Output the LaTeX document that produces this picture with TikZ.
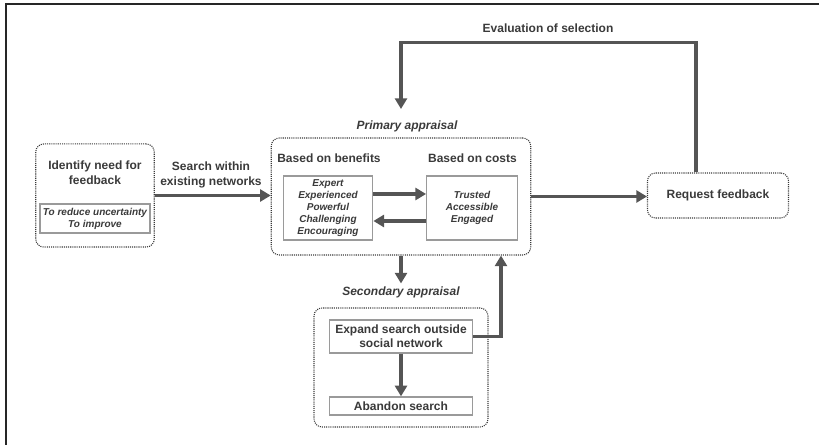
\documentclass[tikz,border=0pt]{standalone}
\usepackage{fontspec}
\setmainfont{Liberation Sans}
\usetikzlibrary{arrows.meta}
\definecolor{ink}{HTML}{3A3A3A}
\definecolor{arrgray}{HTML}{555555}
\definecolor{boxgray}{HTML}{9A9A9A}
\tikzstyle{grp}=[draw=ink,line width=0.8pt,dash pattern=on 0.8pt off 0.8pt,rounded corners=6pt,inner sep=0pt,text=ink,font=\bfseries\fontsize{9}{11}\selectfont]
\tikzstyle{item}=[draw=boxgray,line width=1pt,fill=white,inner sep=0pt,align=center,text=ink,font=\bfseries\itshape\fontsize{7.5}{9}\selectfont]
\tikzstyle{act}=[item,font=\bfseries\fontsize{9}{10.5}\selectfont]
\tikzstyle{lbl}=[align=center,inner sep=2pt,text=ink,font=\bfseries\fontsize{9}{11.25}\selectfont]
\tikzstyle{arr}=[-{Triangle[length=8pt,width=9pt]},draw=arrgray,line width=2.4pt]

\begin{document}
\begin{tikzpicture}[x=0.75pt,y=-0.75pt]
    \useasboundingbox (0,0) rectangle (819,445);
    % frame
    \draw[black!85,line width=1.5pt] (6,445) -- (6,4) -- (819,4);
    % boxes
    \node[grp,minimum width=88.9pt,minimum height=77.3pt] (idbox) at (95,195.5) {};
    \node[lbl] (idlbl) at (95,172.5) {Identify need for\\feedback};
    \node[item,minimum width=82.5pt,minimum height=21.75pt] (why) at (95,218.5) {To reduce uncertainty\\To improve};
    \node[lbl] (search) at (211,174.5) {Search within\\existing networks};
    \node[grp,minimum width=194.6pt,minimum height=87.75pt] (prim) at (401,196.5) {};
    \node[lbl,font=\bfseries\itshape\fontsize{9}{11}\selectfont] (primlbl) at (407,126) {Primary appraisal};
    \node[lbl] (benlbl) at (329,158) {Based on benefits};
    \node[lbl] (costlbl) at (472.5,158) {Based on costs};
    \node[item,minimum width=67.1pt,minimum height=48pt] (ben) at (328,208) {Expert\\Experienced\\Powerful\\Challenging\\Encouraging};
    \node[item,minimum width=67.9pt,minimum height=48pt] (cost) at (472,208) {Trusted\\Accessible\\Engaged};
    \node[grp,minimum width=105.75pt,minimum height=33.75pt] (req) at (718,195.5) {Request feedback};
    \node[lbl] (evallbl) at (548,28) {Evaluation of selection};
    \node[lbl,font=\bfseries\itshape\fontsize{9}{11}\selectfont] (seclbl) at (401,292) {Secondary appraisal};
    \node[grp,minimum width=130.5pt,minimum height=89.25pt] (sec) at (401,367.5) {};
    \node[act,minimum width=106.9pt,minimum height=24.75pt] (expand) at (401,336.5) {Expand search outside\\social network};
    \node[act,minimum width=106.9pt,minimum height=13.5pt] (abandon) at (401,406) {Abandon search};
    \coordinate (fbtip) at (401,109);
    % connectors
    \draw[arr] (idbox.east) -- (idbox.east -| prim.west);
    \draw[arr] ([yshift=10.5pt]ben.east) -- ([yshift=10.5pt]ben.east -| cost.west);
    \draw[arr] ([yshift=-9.75pt]cost.west) -- ([yshift=-9.75pt]cost.west -| ben.east);
    \draw[arr] (prim.east) -- (prim.east -| req.west);
    \draw[arr] ([xshift=-16.5pt]req.north) -- ++(0,-130) -| (fbtip);
    \draw[arr] (prim.south) -- (seclbl.north);
    \draw[arr] (expand.south) -- (abandon.north);
    \draw[arr] (expand.east) -| ([xshift=75pt]prim.south);
  \end{tikzpicture}
\end{document}
